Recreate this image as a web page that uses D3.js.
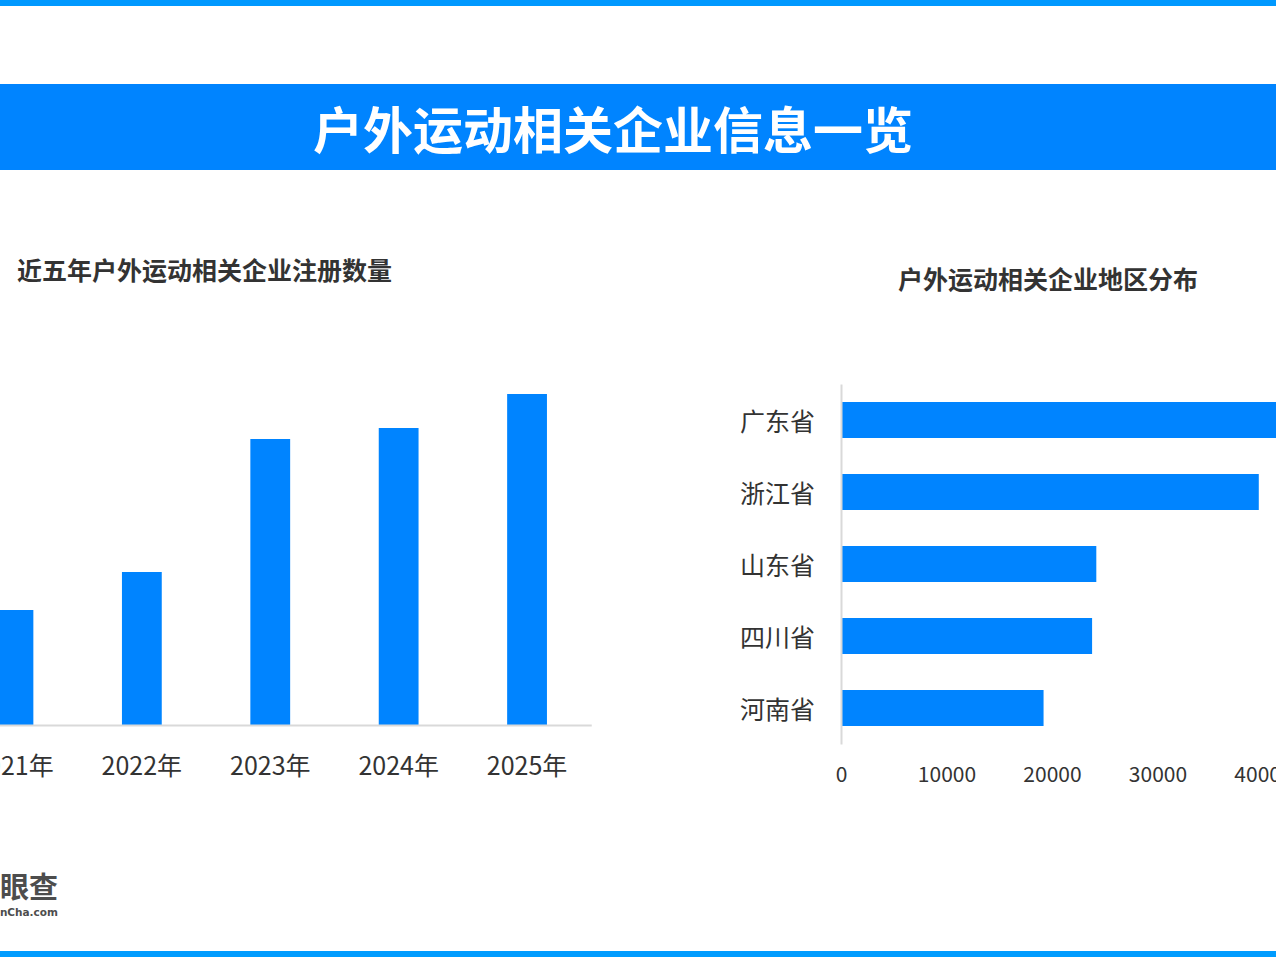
<!DOCTYPE html>
<html>
<head>
<meta charset="utf-8">
<script src="https://cdn.jsdelivr.net/npm/d3@7"></script>
<style>
  html, body { margin: 0; padding: 0; background: #fff; overflow: hidden; }
  svg { display: block; font-family: "Noto Sans CJK SC", "Noto Sans", sans-serif; }
</style>
</head>
<body>
<svg id="my_svg"></svg>
<script>
var width = 1276, height = 957;
var svg = d3.select("#my_svg").attr("width", width).attr("height", height);

// 近五年注册数量
var years = ["2021年", "2022年", "2023年", "2024年", "2025年"];
var yearValues = [11500, 15300, 28600, 29700, 33100];

// 地区分布
var provinces = ["广东省", "浙江省", "山东省", "四川省", "河南省"];
var provinceValues = [45000, 39600, 24200, 23800, 19200];
var xTicks = [0, 10000, 20000, 30000, 40000, 50000];

var blue = "#0084ff";

// top / bottom stripes
svg.append("rect").attr("x", 0).attr("y", 0).attr("width", width).attr("height", 6).attr("fill", "#0099ff");
svg.append("rect").attr("x", 0).attr("y", 951).attr("width", width).attr("height", 6).attr("fill", "#009cff");

// title band
svg.append("rect").attr("x", 0).attr("y", 84).attr("width", width).attr("height", 86).attr("fill", blue);
svg.append("text")
  .attr("x", 613).attr("y", 127)
  .attr("text-anchor", "middle").attr("dominant-baseline", "central")
  .attr("fill", "#fff").attr("font-size", 50).attr("font-weight", "bold")
  .text("户外运动相关企业信息一览");

// ---- left chart: vertical bars
svg.append("text")
  .attr("x", 17).attr("y", 269)
  .attr("dominant-baseline", "central")
  .attr("fill", "#333").attr("font-size", 25).attr("font-weight", "bold")
  .text("近五年户外运动相关企业注册数量");

var xBand = d3.scaleBand()
  .domain(years)
  .range([-50.75, 591.25])
  .paddingInner(0.69)
  .paddingOuter(0.345);

var yLin = d3.scaleLinear()
  .domain([0, 36000])
  .range([725, 365]);

svg.selectAll(".ybar")
  .data(yearValues)
  .enter().append("rect")
  .attr("class", "ybar")
  .attr("x", function (d, i) { return xBand(years[i]); })
  .attr("y", function (d) { return yLin(d); })
  .attr("width", xBand.bandwidth())
  .attr("height", function (d) { return yLin(0) - yLin(d); })
  .attr("fill", blue);

var gx = svg.append("g")
  .attr("transform", "translate(0,725)")
  .call(d3.axisBottom(xBand).tickSize(0).tickPadding(0));
gx.select(".domain").attr("stroke", "#d9d9d9").attr("stroke-width", 2);
gx.selectAll("text")
  .attr("y", 39)
  .attr("dy", null)
  .attr("dominant-baseline", "central")
  .attr("fill", "#333").attr("font-size", 25)
  .attr("font-family", "\"Noto Sans CJK SC\", sans-serif");

// ---- right chart: horizontal bars
svg.append("text")
  .attr("x", 1048).attr("y", 278)
  .attr("text-anchor", "middle").attr("dominant-baseline", "central")
  .attr("fill", "#333").attr("font-size", 25).attr("font-weight", "bold")
  .text("户外运动相关企业地区分布");

var yBand = d3.scaleBand()
  .domain(provinces)
  .range([384, 744])
  .paddingInner(0.5)
  .paddingOuter(0.25);

var xLin = d3.scaleLinear()
  .domain([0, 50000])
  .range([841, 1368.5]);

svg.selectAll(".pbar")
  .data(provinceValues)
  .enter().append("rect")
  .attr("class", "pbar")
  .attr("x", xLin(0))
  .attr("y", function (d, i) { return yBand(provinces[i]); })
  .attr("width", function (d) { return xLin(d) - xLin(0); })
  .attr("height", yBand.bandwidth())
  .attr("fill", blue);

var gy = svg.append("g")
  .attr("transform", "translate(841,0)")
  .call(d3.axisLeft(yBand).tickSize(0).tickPadding(26));
gy.select(".domain").attr("stroke", "#d9d9d9").attr("stroke-width", 2);
gy.selectAll("text")
  .attr("dy", null)
  .attr("dominant-baseline", "central")
  .attr("fill", "#333").attr("font-size", 25)
  .attr("font-family", "\"Noto Sans CJK SC\", sans-serif");

var gxb = svg.append("g")
  .attr("transform", "translate(0,744)")
  .call(d3.axisBottom(xLin).tickValues(xTicks).tickFormat(d3.format("d")).tickSize(0).tickPadding(0));
gxb.select(".domain").remove();
gxb.selectAll("text")
  .attr("y", 28.5)
  .attr("dy", null)
  .attr("dominant-baseline", "central")
  .attr("fill", "#333").attr("font-size", 21)
  .attr("font-family", "\"Noto Sans CJK SC\", sans-serif");

// ---- logo (cut off at left edge)
svg.append("text")
  .attr("x", 58).attr("y", 885)
  .attr("text-anchor", "end").attr("dominant-baseline", "central")
  .attr("fill", "#4d4d4d").attr("font-size", 29).attr("font-weight", "bold")
  .text("天眼查");
svg.append("text")
  .attr("x", 58).attr("y", 912)
  .attr("text-anchor", "end").attr("dominant-baseline", "central")
  .attr("fill", "#4d4d4d").attr("font-size", 10.5).attr("font-weight", "bold")
  .attr("font-family", "\"DejaVu Sans\", sans-serif")
  .text("TianyanCha.com");
</script>
</body>
</html>
